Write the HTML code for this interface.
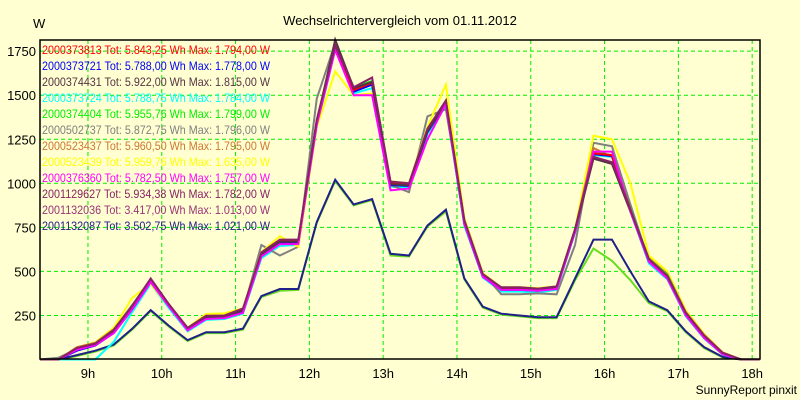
<!DOCTYPE html>
<html><head><meta charset="utf-8"><style>
body{margin:0;background:#ffffd2;}
svg{display:block;font-family:"Liberation Sans",sans-serif;}
</style></head><body>
<svg id="c" width="800" height="400">
<rect width="800" height="400" fill="#ffffd2"/>
<text x="400" y="25" text-anchor="middle" font-size="13">Wechselrichtervergleich vom 01.11.2012</text>
<text x="33" y="28" font-size="13">W</text>
<text x="797" y="394" text-anchor="end" font-size="12">SunnyReport pinxit</text>
<g id="grid"></g><g id="lines"></g><g id="legend"></g>
<rect x="40" y="40" width="720" height="319" fill="none" stroke="#000" stroke-width="1.5"/>
</svg>
<script>
const times=[];for(let k=0;k<=39;k++)times.push(8.35+0.25*k);
const yTicks=[250,500,750,1000,1250,1500,1750];
const xTicks=[9,10,11,12,13,14,15,16,17,18];
const main=[0,0,65,88,165,300,455,310,175,240,245,280,600,670,670,1350,1780,1530,1570,1000,990,1300,1460,780,480,400,400,395,410,735,1170,1160,850,565,470,260,130,35,0,0];
const low=[0,0,25,50,85,175,280,190,110,155,155,175,360,400,400,780,1020,880,910,600,590,760,850,460,300,260,250,240,240,460,680,680,500,330,280,160,70,15,0,0];
const lowGreen=[0,0,20,45,80,170,275,185,105,150,150,170,355,390,395,775,1013,875,905,590,585,755,840,455,295,255,245,235,235,450,630,560,450,320,275,155,65,12,0,0];
const s_red=main;
const s_blue=[0,0,50,80,150,285,440,300,170,235,240,270,590,660,665,1340,1778,1520,1560,990,985,1290,1450,770,470,395,395,390,405,725,1165,1155,845,555,465,255,125,30,0,0];
const s_dark=[0,0,60,85,160,295,450,305,172,238,243,278,598,668,668,1345,1815,1540,1575,995,988,1295,1455,775,475,398,398,392,408,730,1140,1110,840,560,465,258,128,32,0,0];
const s_cyan=[0,0,0,0,100,270,430,290,160,225,230,260,575,645,650,1320,1760,1510,1540,980,975,1280,1440,760,465,385,385,380,395,720,1160,1150,840,545,455,245,118,28,0,0];
const s_green=[0,0,62,86,162,298,452,308,174,242,244,282,602,672,672,1350,1799,1545,1580,1000,995,1300,1460,785,480,400,400,396,410,738,1175,1160,855,570,480,262,132,35,0,0];
const s_gray=[0,10,60,85,170,310,450,300,170,235,240,275,650,590,640,1480,1796,1530,1560,990,950,1380,1420,800,490,370,370,375,370,650,1230,1210,880,560,460,255,125,30,0,0];
const s_orange=[0,0,70,95,172,305,455,310,178,245,248,285,605,675,675,1355,1795,1535,1565,1005,995,1305,1470,790,485,405,405,400,412,735,1200,1150,850,575,485,270,140,40,0,0];
const s_yellow=[0,0,68,98,180,350,430,300,180,258,262,290,610,700,640,1320,1635,1500,1510,1010,1000,1320,1560,800,490,410,410,405,415,740,1270,1250,1000,590,500,280,145,40,0,0];
const s_mag=[0,0,55,82,150,285,440,300,165,230,235,265,585,655,655,1330,1757,1500,1500,960,970,1250,1450,770,470,395,395,390,400,725,1180,1180,840,555,460,250,122,30,0,0];
const s_purple=[0,0,65,90,168,305,460,312,180,248,250,290,608,680,680,1360,1782,1545,1600,1010,1000,1310,1470,790,485,410,410,402,415,740,1150,1120,850,570,475,265,135,38,0,0];
const series=[
 {name:'2001132036',c:'#66dd22',txt:'#993377',d:lowGreen,tot:'3.417,00',max:'1.013,00'},
 {name:'2001132087',c:'#202088',txt:'#202088',d:low,tot:'3.502,75',max:'1.021,00'},
 {name:'2000373724',c:'#00ffff',txt:'#00ffff',d:s_cyan,tot:'5.788,75',max:'1.784,00'},
 {name:'2000502737',c:'#808080',txt:'#808080',d:s_gray,tot:'5.872,75',max:'1.796,00'},
 {name:'2000523439',c:'#ffff00',txt:'#ffff00',d:s_yellow,tot:'5.959,76',max:'1.635,00'},
 {name:'2000523437',c:'#cc7733',txt:'#cc7733',d:s_orange,tot:'5.960,50',max:'1.795,00'},
 {name:'2000374404',c:'#00ee00',txt:'#00ee00',d:s_green,tot:'5.955,76',max:'1.799,00'},
 {name:'2000373721',c:'#0000ff',txt:'#0000ff',d:s_blue,tot:'5.788,00',max:'1.778,00'},
 {name:'2000373813',c:'#ff0000',txt:'#ff0000',d:s_red,tot:'5.843,25',max:'1.794,00'},
 {name:'2000374431',c:'#553344',txt:'#553344',d:s_dark,tot:'5.922,00',max:'1.815,00'},
 {name:'2000376360',c:'#ff00ff',txt:'#ff00ff',d:s_mag,tot:'5.782,50',max:'1.757,00'},
 {name:'2001129627',c:'#882266',txt:'#882266',d:s_purple,tot:'5.934,38',max:'1.782,00'}
];
const legendOrder=['2000373813','2000373721','2000374431','2000373724','2000374404','2000502737','2000523437','2000523439','2000376360','2001129627','2001132036','2001132087'];
const X=t=>40+(t-8.35)*73.8;
const Y=v=>359.5-v*0.1762;
const NS='http://www.w3.org/2000/svg';
function mk(tag,attrs,parent){const e=document.createElementNS(NS,tag);for(const k in attrs)e.setAttribute(k,attrs[k]);parent.appendChild(e);return e;}
const grid=document.getElementById('grid');
yTicks.forEach(v=>{
 const l=mk('line',{x1:40,x2:760,y1:Y(v),y2:Y(v),stroke:'#00ee00','stroke-dasharray':'4,3'},grid);
 
 
 const t=mk('text',{x:36,y:Y(v)+5,'text-anchor':'end','font-size':13},grid);t.textContent=v;
 
 
});
xTicks.forEach(h=>{
 const l=mk('line',{x1:X(h),x2:X(h),y1:40,y2:359,stroke:'#00ee00','stroke-dasharray':'4,3'},grid);
 
 
 const t=mk('text',{x:X(h),y:378,'text-anchor':'middle','font-size':13},grid);t.textContent=h+'h';
 
 
});
const lines=document.getElementById('lines');
series.forEach(s=>{
 const p=mk('polyline',{points:s.d.map((v,i)=>X(times[i])+','+Y(v)).join(' '),fill:'none',stroke:s.c,'stroke-width':2},lines);
 
 
});
const lg=document.getElementById('legend');
legendOrder.forEach((n,i)=>{
 const s=series.find(q=>q.name===n);
 const t=mk('text',{x:42,y:54+i*16,'font-size':12,fill:s.txt,textLength:228,lengthAdjust:'spacingAndGlyphs'},lg);
 t.textContent=s.name+' Tot: '+s.tot+' Wh Max: '+s.max+' W';
 
 
});
</script>
</body></html>
